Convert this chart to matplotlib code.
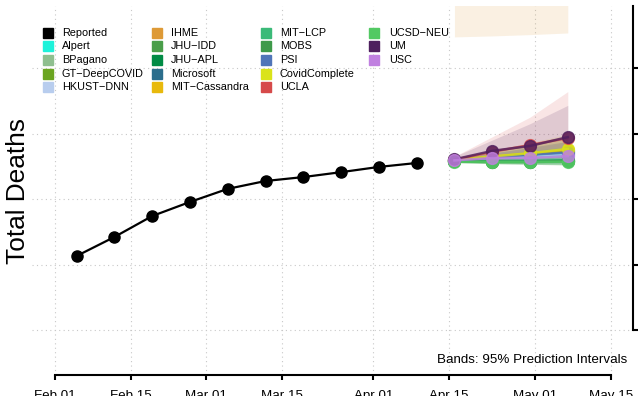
import datetime as dt
import matplotlib
matplotlib.use('Agg')
import matplotlib.pyplot as plt
import matplotlib.dates as mdates
from matplotlib.lines import Line2D

plt.rcParams['font.family'] = ['Liberation Sans', 'DejaVu Sans']

# reported weekly totals
rep_dates = [dt.date(2022, 2, 5) + dt.timedelta(days=7 * i) for i in range(10)]
reported = [11130, 11420, 11740, 11955, 12155, 12275, 12335, 12410, 12490, 12550]

# forecast target dates (1-4 weeks ahead)
fc_dates = [dt.date(2022, 4, 16), dt.date(2022, 4, 23), dt.date(2022, 4, 30), dt.date(2022, 5, 7)]

models = ['Alpert', 'BPagano', 'GT\u2212DeepCOVID', 'HKUST\u2212DNN', 'IHME', 'JHU\u2212IDD',
          'JHU\u2212APL', 'Microsoft', 'MIT\u2212Cassandra', 'MIT\u2212LCP', 'MOBS', 'PSI',
          'CovidComplete', 'UCLA', 'UCSD\u2212NEU', 'UM', 'USC']
colors = ['#1EF2DA', '#8FBF8F', '#6BA521', '#B8CDEE', '#DE9A36', '#4A9E4A',
          '#008B45', '#2C6E8C', '#E8B90C', '#3BBA78', '#3E9A4A', '#5075B8',
          '#DAE31A', '#D64A4A', '#52C963', '#4E1F5E', '#C080E0']

medians = [
    [12590, 12625, 12650, 12675],   # Alpert
    [12580, 12570, 12570, 12580],   # BPagano
    [12595, 12640, 12690, 12740],   # GT-DeepCOVID
    [12595, 12630, 12660, 12690],   # HKUST-DNN
    [15200, 15400, 15600, 15800],   # IHME
    [12575, 12565, 12565, 12575],   # JHU-IDD
    [12585, 12580, 12580, 12590],   # JHU-APL
    [12595, 12640, 12680, 12720],   # Microsoft
    [12595, 12645, 12695, 12745],   # MIT-Cassandra
    [12580, 12575, 12575, 12585],   # MIT-LCP
    [12575, 12570, 12570, 12580],   # MOBS
    [12590, 12635, 12675, 12710],   # PSI
    [12600, 12650, 12700, 12765],   # CovidComplete
    [12600, 12720, 12825, 12930],   # UCLA
    [12570, 12565, 12565, 12570],   # UCSD-NEU
    [12605, 12735, 12810, 12945],   # UM
    [12590, 12625, 12630, 12655],   # USC
]
lower = [
    [12570, 12580, 12590, 12600],
    [12560, 12540, 12530, 12520],
    [12570, 12590, 12610, 12630],
    [12570, 12590, 12600, 12610],
    [14475, 14490, 14510, 14535],
    [12555, 12540, 12530, 12520],
    [12565, 12550, 12540, 12540],
    [12570, 12600, 12620, 12640],
    [12570, 12600, 12630, 12660],
    [12560, 12545, 12535, 12530],
    [12555, 12540, 12530, 12525],
    [12570, 12595, 12615, 12630],
    [12575, 12610, 12640, 12680],
    [12560, 12600, 12640, 12680],
    [12550, 12540, 12530, 12520],
    [12565, 12630, 12660, 12700],
    [12570, 12590, 12590, 12600],
]
upper = [
    [12610, 12680, 12740, 12800],
    [12600, 12610, 12630, 12660],
    [12620, 12720, 12830, 12950],
    [12620, 12700, 12780, 12860],
    [16000, 16300, 16600, 16900],
    [12600, 12600, 12620, 12650],
    [12605, 12620, 12640, 12670],
    [12620, 12700, 12790, 12880],
    [12620, 12720, 12820, 12930],
    [12600, 12610, 12625, 12650],
    [12600, 12605, 12620, 12645],
    [12615, 12700, 12790, 12880],
    [12625, 12740, 12860, 12990],
    [12650, 12950, 13250, 13640],
    [12595, 12600, 12615, 12640],
    [12650, 12900, 13150, 13430],
    [12610, 12680, 12720, 12780],
]

y_ticks = [10000, 11000, 12000, 13000, 14000]
x_ticks = [dt.date(2022, 2, 1), dt.date(2022, 2, 15), dt.date(2022, 3, 1), dt.date(2022, 3, 15),
           dt.date(2022, 4, 1), dt.date(2022, 4, 15), dt.date(2022, 5, 1), dt.date(2022, 5, 15)]

W, H = 639, 396
fig = plt.figure(figsize=(W / 100, H / 100), dpi=100)
ax = fig.add_axes([32 / W, (H - 375) / H, (633 - 32) / W, (375 - 6) / H])

x0 = mdates.date2num(dt.date(2022, 2, 1))
ax.set_xlim(x0 - 4.26, x0 + 107.08)
ax.set_ylim(9313, 14947)

# prediction bands
for lo, hi, c in zip(lower, upper, colors):
    ax.fill_between(fc_dates, lo, hi, color=c, alpha=0.14, linewidth=0)

ax.plot(rep_dates, reported, color='black', lw=1.6, marker='o', ms=8, zorder=5)

for med, c in zip(medians, colors):
    ax.plot(fc_dates, med, color=c, lw=1.8, marker='o', ms=8.5, alpha=0.8, zorder=4)

ax.set_xticks(x_ticks)
ax.xaxis.set_major_formatter(mdates.DateFormatter('%b %d'))
ax.set_yticks(y_ticks)
ax.yaxis.tick_right()
ax.tick_params(axis='y', labelright=False, length=3.6, width=1.5, direction='out')
ax.tick_params(axis='x', labelsize=9.6, length=3.6, width=1.5, direction='out', pad=7.5)

for s in ['top', 'left']:
    ax.spines[s].set_visible(False)
ax.spines['bottom'].set_linewidth(1.5)
ax.spines['right'].set_linewidth(1.5)
ax.spines['bottom'].set_bounds(x0, mdates.date2num(x_ticks[-1]))
ax.spines['right'].set_bounds(10000, 14947)

ax.grid(True, color='#c8c8c8', linestyle=(0, (1, 3)), linewidth=0.8)
ax.set_axisbelow(True)

fig.text(18 / W, 1 - 191 / H, 'Total Deaths', rotation=90, fontsize=18.9, ha='center', va='center')
fig.text(627 / W, 1 - 360 / H, 'Bands: 95% Prediction Intervals', fontsize=9.6, ha='right', va='center')

# legend, 4 columns x 5 rows
leg_names = ['Reported'] + models
leg_colors = ['black'] + colors
col_sq = [48, 157, 265.5, 374]
col_tx = [62, 171, 280, 389]
for i, (name, c) in enumerate(zip(leg_names, leg_colors)):
    col, row = i // 5, i % 5
    yy = 1 - (32.7 + 13.65 * row) / H
    fig.add_artist(Line2D([col_sq[col] / W], [yy], transform=fig.transFigure, marker='s',
                          ms=6.5, color=c, linestyle='none'))
    fig.text(col_tx[col] / W, yy, name, fontsize=7.8, ha='left', va='center')

fig.savefig('out.png', dpi=100)
